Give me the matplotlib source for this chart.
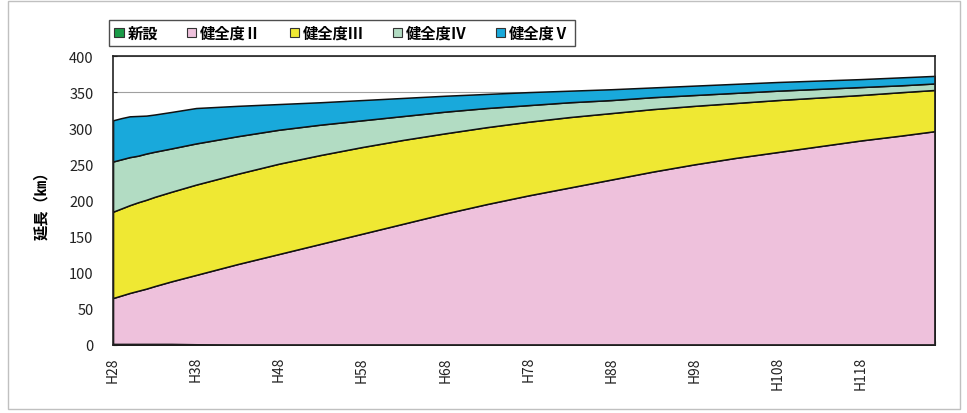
import matplotlib
matplotlib.use("Agg")
import matplotlib.pyplot as plt
from matplotlib.patches import Patch, Rectangle

plt.rcParams['font.family'] = ['Noto Sans CJK JP', 'DejaVu Sans']

# Fiscal years (Heisei numbering) at which the stock was estimated
years = [28, 29, 30, 31, 32, 33, 35, 38, 43, 48, 53, 58, 63, 68, 73, 78,
         83, 88, 93, 98, 103, 108, 113, 118, 123, 127]

# Length (km) by soundness grade
new_built = [1.5, 1.5, 1.5, 1.5, 1.5, 1.5, 1.5, 1, 0, 0, 0, 0, 0, 0, 0, 0,
             0, 0, 0, 0, 0, 0, 0, 0, 0, 0]
grade2 = [63.5, 67, 70.5, 73.5, 76.5, 80, 86.5, 96, 112, 126, 140, 154, 168,
          182, 195, 207, 218, 229, 240, 250, 259, 267, 275, 283, 290, 296]
grade3 = [119.5, 120.5, 121.5, 122.5, 123, 123.5, 124, 125, 125, 125, 123,
          120, 116, 111, 106.5, 102, 97.5, 92, 86.5, 81, 76, 72, 67.5, 63,
          60, 57]
grade4 = [69.5, 68, 66.5, 64.5, 64, 62.5, 60, 57, 52, 47, 42, 37, 33, 30,
          26.5, 23, 20.5, 18, 16.5, 15, 14, 13, 12, 11, 9.5, 9]
grade5 = [57, 57, 56.5, 55, 52.5, 51.5, 50.5, 49, 42, 35.5, 31, 28, 25, 22,
          19.5, 18, 16, 15, 13.5, 13, 12.5, 12, 11.5, 11, 11, 10.5]

series_labels = ['新設', '健全度Ⅱ', '健全度Ⅲ', '健全度Ⅳ', '健全度Ⅴ']
series_colors = ['#1A9B48', '#EEC1DC', '#EFE833', '#B2DCC3', '#19A9DB']

label_years = list(range(28, 119, 10))
tick_labels = ['H%d' % y for y in label_years]

fig = plt.figure(figsize=(9.67, 4.14), dpi=100)
ax = fig.add_axes([0.1169, 0.1643, 0.8500, 0.6980])

# light outer frame around the whole chart
fig.patches.append(Rectangle((0.008, 0.01), 0.985, 0.985, transform=fig.transFigure,
                             fill=False, edgecolor='#c0c0c0', linewidth=1.0))

ax.set_axisbelow(True)
ax.yaxis.grid(True, color='#a0a0a0', linewidth=0.8)

ax.stackplot(years, new_built, grade2, grade3, grade4, grade5,
             colors=series_colors, edgecolor='#111111', linewidth=1.1)

ax.set_xlim(28, 127)
ax.set_ylim(0, 400)
ax.set_yticks(range(0, 401, 50))
ax.set_xticks(label_years)
ax.set_xticklabels(tick_labels, rotation=90)
ax.set_xticks(range(28, 128), minor=True)
ax.tick_params(axis='x', which='both', direction='in', length=3, width=0.8,
               colors='#222222', labelsize=10, pad=8)
ax.tick_params(axis='y', direction='in', length=3, width=0.8,
               colors='#222222', labelsize=10.5, pad=14)
for s in ax.spines.values():
    s.set_color('#222222')
    s.set_linewidth(1.2)

ax.set_ylabel('延長（㎞）', fontsize=11, fontweight='bold', labelpad=14)

handles = [Patch(facecolor=c, edgecolor='#333333', linewidth=0.8)
           for c in series_colors]
leg = fig.legend(handles, series_labels, loc='center', ncol=5,
                 bbox_to_anchor=(0.354, 0.918), frameon=True, fancybox=False,
                 handlelength=0.6, handleheight=0.6, handletextpad=0.25,
                 columnspacing=1.9, borderpad=0.35, borderaxespad=0,
                 prop={'size': 11, 'weight': 'bold'})
leg.get_frame().set_edgecolor('#222222')
leg.get_frame().set_linewidth(1.0)

fig.savefig('out.png', dpi=100)
